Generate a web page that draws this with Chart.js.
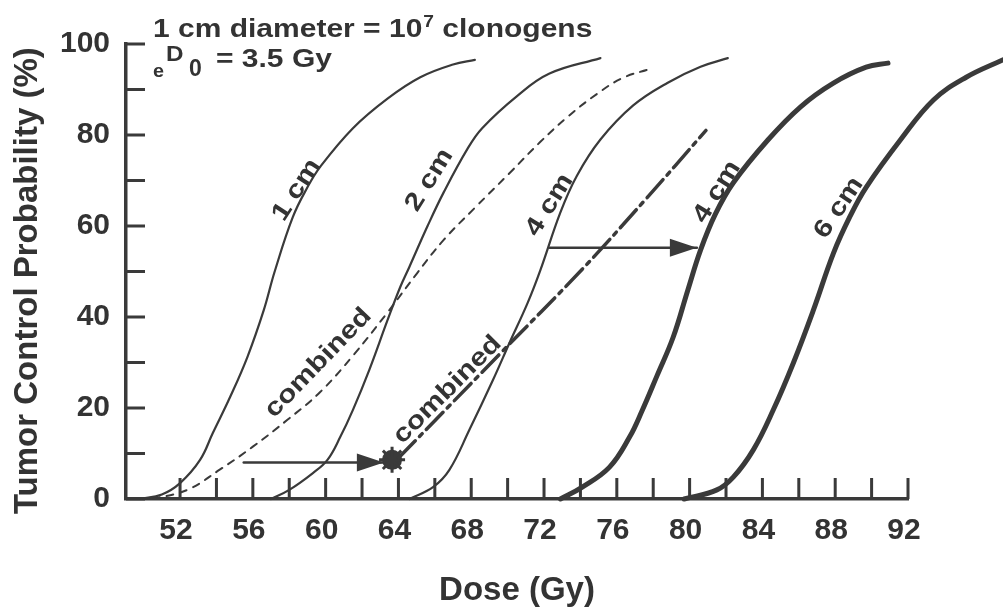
<!DOCTYPE html>
<html>
<head>
<meta charset="utf-8">
<script src="https://cdn.jsdelivr.net/npm/chart.js@4/dist/chart.umd.min.js"></script>
<style>
  html, body { margin: 0; padding: 0; background: #fff; }
  canvas { display: block; }
</style>
</head>
<body>
<canvas id="chart" width="1003" height="611"></canvas>
<script>
// tumour control probability (%) against dose (Gy)
const dose1cm = [49.8, 51, 52, 53.1, 53.8, 54.75, 55.7, 56.6, 57.2, 58.2, 59, 59.7, 61.5, 63.4, 65.2, 67, 68.2];
const tcp1cm = [0, 1, 3.5, 8.6, 14.5, 22.4, 31.2, 41.5, 50, 62, 68.5, 73, 81.5, 88, 92.7, 95.5, 96.5];

const dose2cm = [57, 58, 59.3, 60.1, 60.8, 61.5, 62.4, 63.4, 64.1, 64.6, 65.6, 66.5, 67.8, 68.6, 70.5, 72.3, 75.1];
const tcp2cm = [0, 2, 5.7, 8.6, 13.6, 19.6, 28.4, 39.3, 46.6, 51, 60, 67.5, 77, 81.5, 88.5, 93.5, 96.9];

const doseComb1 = [50.5, 52.4, 54.2, 56, 57.9, 59.7, 61.5, 63.4, 65, 66.5, 68.2, 70.1, 71.8, 73.3, 74.9, 76.3, 77.8];
const tcpComb1 = [0, 2, 6.5, 11.5, 17.4, 23.5, 31.5, 41, 49.5, 57, 64, 71.6, 78.5, 84, 89, 92.5, 94.5];

const dose4cm = [64.6, 65.9, 66.8, 67.9, 69.2, 70.1, 71.1, 71.8, 72.9, 73.8, 75.1, 76.9, 78.8, 80.6, 82.1];
const tcp4cm = [0, 2.6, 6.4, 15.2, 26.2, 34.3, 43.1, 50.3, 63, 71, 79, 86.5, 91.5, 95, 96.9];

const doseComb2 = [64, 66.8, 69.6, 74.1, 77.5, 80.9];
const tcpComb2 = [9, 20.5, 32, 50.5, 65.5, 81];

const dose4cmHigh = [72.9, 74.1, 75.6, 76.7, 77.4, 78.2, 79.1, 79.9, 80.6, 81.4, 82.4, 84.3, 86.1, 87.9, 89.7, 90.9];
const tcp4cmHigh = [0, 2.6, 7, 13.6, 19.5, 27, 35.6, 45.9, 54.7, 62.5, 69.5, 78.9, 86.2, 91.4, 94.9, 95.8];

const dose6cm = [79.7, 81.5, 82.4, 83.5, 84.6, 85.7, 86.8, 87.9, 88.8, 89.7, 91.6, 93.4, 95.2, 97.2];
const tcp6cm = [0, 2, 4.8, 10.8, 19.6, 29.9, 41.5, 54, 62, 68.5, 79, 87.7, 92.7, 96.5];

const arrowLowDose = [55.5, 63.2];
const arrowLowTcp = [8, 8];
const arrowHighDose = [72.3, 80.4];
const arrowHighTcp = [55.2, 55.2];

const starDose = [63.65];
const starTcp = [8.6];

const xTickLabels = [52, 56, 60, 64, 68, 72, 76, 80, 84, 88, 92];
const xTickMarks = [52, 54, 56, 58, 60, 62, 64, 66, 68, 70, 72, 74, 76, 78, 80, 82, 84, 86, 88, 90, 92];
const yTickLabels = [0, 20, 40, 60, 80, 100];
const yTickMarks = [0, 10, 20, 30, 40, 50, 60, 70, 80, 90, 100];

// curve labels, placed in data units
const curveLabels = [
  { text: '1 cm', x: 58.4, y: 67.9, angle: -57 },
  { text: '2 cm', x: 65.7, y: 70.1, angle: -58 },
  { text: 'combined', x: 59.6, y: 29.9, angle: -46 },
  { text: '4 cm', x: 72.3, y: 64.6, angle: -58 },
  { text: 'combined', x: 66.7, y: 24.0, angle: -45 },
  { text: '4 cm', x: 81.5, y: 67.5, angle: -58 },
  { text: '6 cm', x: 88.2, y: 64.0, angle: -56 },
];

const ink = '#3a3a3a';
const textInk = '#333';
const family = '"Liberation Sans", Arial, Helvetica, sans-serif';

function pts(xs, ys) {
  return xs.map((x, i) => ({ x, y: ys[i] }));
}

function curve(label, xs, ys, width, dash) {
  return {
    label,
    data: pts(xs, ys),
    borderColor: ink,
    borderWidth: width,
    borderDash: dash || [],
    borderCapStyle: 'round',
    pointRadius: 0,
    fill: false,
    tension: 0.4,
    clip: false,
  };
}

function stretchedText(ctx, text, x, y, sx) {
  ctx.save();
  ctx.translate(x, y);
  ctx.scale(sx, 1);
  ctx.fillText(text, 0, 0);
  ctx.restore();
  return ctx.measureText(text).width * sx;
}

const axisTicks = {
  id: 'axisTicks',
  beforeDatasetsDraw(chart) {
    const { ctx, scales: { x, y } } = chart;
    ctx.save();
    ctx.strokeStyle = ink;
    ctx.lineWidth = 3;
    ctx.beginPath();
    yTickMarks.forEach((v) => {
      const py = y.getPixelForValue(v);
      ctx.moveTo(x.left, py);
      ctx.lineTo(x.left + 19, py);
    });
    xTickMarks.forEach((v) => {
      const px = x.getPixelForValue(v);
      ctx.moveTo(px, y.bottom);
      ctx.lineTo(px, y.bottom - 21);
    });
    ctx.stroke();
    ctx.restore();
  },
};

const arrowHeads = {
  id: 'arrowHeads',
  afterDatasetsDraw(chart) {
    const ctx = chart.ctx;
    chart.data.datasets.forEach((ds, i) => {
      if (!ds.arrow) return;
      const els = chart.getDatasetMeta(i).data;
      const a = els[els.length - 2];
      const b = els[els.length - 1];
      const ang = Math.atan2(b.y - a.y, b.x - a.x);
      ctx.save();
      ctx.translate(b.x, b.y);
      ctx.rotate(ang);
      ctx.beginPath();
      ctx.moveTo(0, 0);
      ctx.lineTo(-27, -9);
      ctx.lineTo(-27, 9);
      ctx.closePath();
      ctx.fillStyle = ink;
      ctx.fill();
      ctx.restore();
    });
  },
};

const annotations = {
  id: 'annotations',
  afterDraw(chart) {
    const { ctx, scales: { x, y } } = chart;
    const sx = 1.2;
    ctx.save();
    ctx.fillStyle = textInk;
    ctx.textBaseline = 'alphabetic';
    ctx.textAlign = 'left';

    // header lines
    ctx.font = `bold 25px ${family}`;
    let cx = 153;
    cx += stretchedText(ctx, '1 cm diameter = 10', cx, 37, sx);
    ctx.font = `bold 16px ${family}`;
    cx += stretchedText(ctx, '7', cx + 1, 27, sx) + 1;
    ctx.font = `bold 25px ${family}`;
    stretchedText(ctx, ' clonogens', cx, 37, sx);

    ctx.font = `bold 18px ${family}`;
    stretchedText(ctx, 'e', 153, 77, 1.1);
    ctx.font = `bold 22px ${family}`;
    stretchedText(ctx, 'D', 166, 61, 1.1);
    ctx.font = `bold 23px ${family}`;
    stretchedText(ctx, '0', 189, 76, 1.0);
    ctx.font = `bold 25px ${family}`;
    stretchedText(ctx, '= 3.5 Gy', 216, 67, sx);

    // labels along the curves
    ctx.textAlign = 'center';
    ctx.textBaseline = 'middle';
    ctx.font = `bold 25px ${family}`;
    curveLabels.forEach((l) => {
      ctx.save();
      ctx.translate(x.getPixelForValue(l.x), y.getPixelForValue(l.y));
      ctx.rotate((l.angle * Math.PI) / 180);
      ctx.scale(sx, 1);
      ctx.fillText(l.text, 0, 0);
      ctx.restore();
    });
    ctx.restore();
  },
};

const arrowLow = curve('arrow low', arrowLowDose, arrowLowTcp, 2.5);
arrowLow.arrow = true;
arrowLow.tension = 0;
const arrowHigh = curve('arrow high', arrowHighDose, arrowHighTcp, 2.5);
arrowHigh.arrow = true;
arrowHigh.tension = 0;

const ctx = document.getElementById('chart').getContext('2d');
const chart = new Chart(ctx, {
  type: 'line',
  data: {
    datasets: [
      curve('1 cm', dose1cm, tcp1cm, 2.2),
      curve('2 cm', dose2cm, tcp2cm, 2.2),
      curve('combined', doseComb1, tcpComb1, 2, [7, 7]),
      curve('4 cm', dose4cm, tcp4cm, 2.2),
      curve('combined escalated', doseComb2, tcpComb2, 3.5, [24, 6, 4, 6]),
      curve('4 cm high', dose4cmHigh, tcp4cmHigh, 5),
      curve('6 cm', dose6cm, tcp6cm, 5),
      arrowLow,
      arrowHigh,
      {
        label: 'star',
        data: pts(starDose, starTcp),
        showLine: false,
        pointStyle: 'star',
        pointRadius: 13,
        borderColor: ink,
        borderWidth: 3,
        backgroundColor: ink,
        clip: false,
      },
      {
        label: 'star core',
        data: pts(starDose, starTcp),
        showLine: false,
        pointStyle: 'circle',
        pointRadius: 10,
        borderWidth: 0,
        backgroundColor: ink,
        clip: false,
      },
    ],
  },
  options: {
    responsive: false,
    animation: false,
    devicePixelRatio: 1,
    layout: { padding: { left: 0, top: 44, right: 95, bottom: 0 } },
    plugins: {
      legend: { display: false },
      tooltip: { enabled: false },
    },
    scales: {
      x: {
        type: 'linear',
        bounds: 'data',
        afterDataLimits: (s) => {
          s.min = 49.03;
          s.max = 92;
        },
        afterBuildTicks: (s) => {
          s.ticks = xTickLabels.map((v) => ({ value: v }));
        },
        afterFit: (s) => {
          s.height = 112;
        },
        grid: { display: false, drawTicks: false },
        border: { display: true, color: ink, width: 3.5 },
        ticks: {
          color: textInk,
          font: { family, size: 30, weight: 'bold' },
          padding: 14,
          labelOffset: -4,
          maxRotation: 0,
          autoSkip: false,
        },
        title: {
          display: true,
          text: 'Dose (Gy)',
          color: textInk,
          font: { family, size: 33, weight: 'bold' },
          padding: { top: 0, bottom: 0 },
        },
      },
      y: {
        min: 0,
        max: 100,
        afterBuildTicks: (s) => {
          s.ticks = yTickLabels.map((v) => ({ value: v }));
        },
        afterFit: (s) => {
          s.width = 126;
        },
        grid: { display: false, drawTicks: false },
        border: { display: true, color: ink, width: 3.5 },
        ticks: {
          color: textInk,
          font: { family, size: 30, weight: 'bold' },
          padding: 16,
        },
        title: {
          display: true,
          text: 'Tumor Control Probability (%)  ',
          color: textInk,
          font: { family, size: 33, weight: 'bold' },
          padding: { top: 8, bottom: 0 },
        },
      },
    },
  },
  plugins: [axisTicks, arrowHeads, annotations],
});
</script>
</body>
</html>
